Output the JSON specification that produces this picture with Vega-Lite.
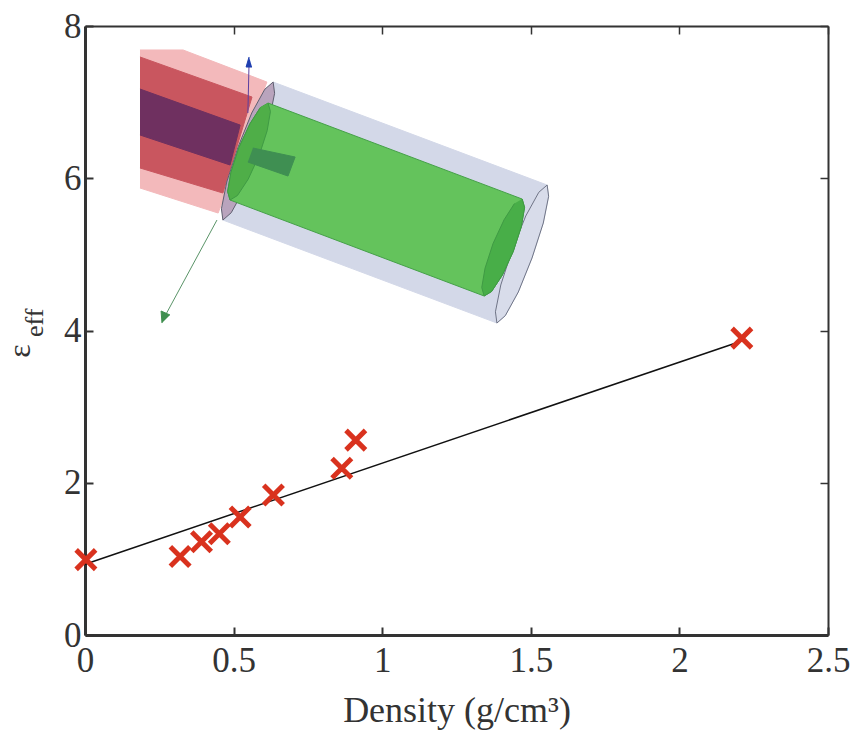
{"$schema":"https://vega.github.io/schema/vega-lite/v6.json","width":743,"height":609,"autosize":"none","padding":{"left":85,"top":26,"right":28,"bottom":99},"background":"white","config":{"view":{"stroke":null},"axis":{"grid":false,"labelFont":"Liberation Serif","titleFont":"Liberation Serif","labelColor":"#333","titleColor":"#333","domainColor":"#333","tickColor":"#333"}},
"datasets":{"pts":[{"x":0.003,"y":0.99},{"x":0.32,"y":1.03},{"x":0.392,"y":1.225},{"x":0.452,"y":1.33},{"x":0.522,"y":1.55},{"x":0.634,"y":1.84},{"x":0.864,"y":2.19},{"x":0.911,"y":2.56},{"x":2.21,"y":3.9}],
"fit":[{"x":0,"y":0.93},{"x":2.2,"y":3.85}],
"ylab":[{"label":"ε"}],"ylab2":[{"label":"eff"}],
"decor":[
{"p":"a","i":1,"x":0.185,"y":7.685},{"p":"a","i":2,"x":0.33,"y":7.685},{"p":"a","i":3,"x":0.612,"y":7.264},{"p":"a","i":4,"x":0.448,"y":5.543},{"p":"a","i":5,"x":0.185,"y":5.872},
{"p":"b","i":1,"x":0.185,"y":7.593},{"p":"b","i":2,"x":0.562,"y":7.067},{"p":"b","i":3,"x":0.464,"y":5.806},{"p":"b","i":4,"x":0.185,"y":6.135},
{"p":"c","i":1,"x":0.185,"y":7.172},{"p":"c","i":2,"x":0.522,"y":6.699},{"p":"c","i":3,"x":0.488,"y":6.174},{"p":"c","i":4,"x":0.185,"y":6.568},
{"p":"d","i":1,"x":0.633,"y":7.264},{"p":"d","i":2,"x":1.555,"y":5.911},{"p":"d","i":3,"x":1.56,"y":5.763},{"p":"d","i":4,"x":1.542,"y":5.412},{"p":"d","i":5,"x":1.504,"y":4.952},{"p":"d","i":6,"x":1.458,"y":4.506},{"p":"d","i":7,"x":1.414,"y":4.194},{"p":"d","i":8,"x":1.386,"y":4.098},{"p":"d","i":9,"x":0.464,"y":5.451},{"p":"d","i":10,"x":0.492,"y":5.547},{"p":"d","i":11,"x":0.536,"y":5.859},{"p":"d","i":12,"x":0.582,"y":6.305},{"p":"d","i":13,"x":0.62,"y":6.765},{"p":"d","i":14,"x":0.638,"y":7.116},
{"p":"e","i":1,"x":0.633,"y":7.264},{"p":"e","i":2,"x":0.638,"y":7.116},{"p":"e","i":3,"x":0.62,"y":6.765},{"p":"e","i":4,"x":0.582,"y":6.305},{"p":"e","i":5,"x":0.536,"y":5.859},{"p":"e","i":6,"x":0.492,"y":5.547},{"p":"e","i":7,"x":0.464,"y":5.451},{"p":"e","i":8,"x":0.459,"y":5.599},{"p":"e","i":9,"x":0.477,"y":5.951},{"p":"e","i":10,"x":0.515,"y":6.41},{"p":"e","i":11,"x":0.561,"y":6.857},{"p":"e","i":12,"x":0.605,"y":7.169},{"p":"e","i":13,"x":0.633,"y":7.264},
{"p":"f","i":1,"x":1.555,"y":5.911},{"p":"f","i":2,"x":1.56,"y":5.763},{"p":"f","i":3,"x":1.542,"y":5.412},{"p":"f","i":4,"x":1.504,"y":4.952},{"p":"f","i":5,"x":1.458,"y":4.506},{"p":"f","i":6,"x":1.414,"y":4.194},{"p":"f","i":7,"x":1.386,"y":4.098},{"p":"f","i":8,"x":1.381,"y":4.246},{"p":"f","i":9,"x":1.399,"y":4.598},{"p":"f","i":10,"x":1.437,"y":5.057},{"p":"f","i":11,"x":1.483,"y":5.504},{"p":"f","i":12,"x":1.527,"y":5.816},{"p":"f","i":13,"x":1.555,"y":5.911},
{"p":"g","i":1,"x":0.616,"y":6.988},{"p":"g","i":2,"x":1.471,"y":5.727},{"p":"g","i":3,"x":1.479,"y":5.616},{"p":"g","i":4,"x":1.468,"y":5.364},{"p":"g","i":5,"x":1.441,"y":5.038},{"p":"g","i":6,"x":1.404,"y":4.726},{"p":"g","i":7,"x":1.368,"y":4.512},{"p":"g","i":8,"x":1.343,"y":4.453},{"p":"g","i":9,"x":0.488,"y":5.714},{"p":"g","i":10,"x":0.48,"y":5.826},{"p":"g","i":11,"x":0.491,"y":6.078},{"p":"g","i":12,"x":0.518,"y":6.404},{"p":"g","i":13,"x":0.555,"y":6.715},{"p":"g","i":14,"x":0.59,"y":6.929},{"p":"g","i":15,"x":0.616,"y":6.988},
{"p":"h","i":1,"x":1.471,"y":5.727},{"p":"h","i":2,"x":1.479,"y":5.616},{"p":"h","i":3,"x":1.468,"y":5.364},{"p":"h","i":4,"x":1.441,"y":5.038},{"p":"h","i":5,"x":1.404,"y":4.726},{"p":"h","i":6,"x":1.368,"y":4.512},{"p":"h","i":7,"x":1.343,"y":4.453},{"p":"h","i":8,"x":1.335,"y":4.565},{"p":"h","i":9,"x":1.346,"y":4.817},{"p":"h","i":10,"x":1.373,"y":5.143},{"p":"h","i":11,"x":1.41,"y":5.454},{"p":"h","i":12,"x":1.445,"y":5.668},
{"p":"i","i":1,"x":0.616,"y":6.988},{"p":"i","i":2,"x":0.624,"y":6.877},{"p":"i","i":3,"x":0.613,"y":6.625},{"p":"i","i":4,"x":0.586,"y":6.299},{"p":"i","i":5,"x":0.549,"y":5.987},{"p":"i","i":6,"x":0.513,"y":5.773},{"p":"i","i":7,"x":0.488,"y":5.714},{"p":"i","i":8,"x":0.48,"y":5.826},{"p":"i","i":9,"x":0.491,"y":6.078},{"p":"i","i":10,"x":0.518,"y":6.404},{"p":"i","i":11,"x":0.555,"y":6.715},{"p":"i","i":12,"x":0.59,"y":6.929},
{"p":"j","i":1,"x":0.565,"y":6.397},{"p":"j","i":2,"x":0.707,"y":6.279},{"p":"j","i":3,"x":0.683,"y":6.029},{"p":"j","i":4,"x":0.548,"y":6.213},
{"p":"k","i":1,"x":0.552,"y":7.514},{"p":"k","i":2,"x":0.548,"y":6.857},
{"p":"l","i":1,"x":0.552,"y":7.593},{"p":"l","i":2,"x":0.542,"y":7.461},{"p":"l","i":3,"x":0.562,"y":7.461},
{"p":"m","i":1,"x":0.444,"y":5.451},{"p":"m","i":2,"x":0.262,"y":4.138},
{"p":"n","i":1,"x":0.259,"y":4.098},{"p":"n","i":2,"x":0.256,"y":4.256},{"p":"n","i":3,"x":0.286,"y":4.204}
]},
"resolve":{"axis":{"x":"independent","y":"independent"}},
"layer":[
{"data":{"name":"decor"},"mark":{"type":"line","filled":true,"strokeWidth":1,"clip":false},"encoding":{
"x":{"field":"x","type":"quantitative","axis":null,"scale":{"domain":[0,2.5],"nice":false}},
"y":{"field":"y","type":"quantitative","axis":null,"scale":{"domain":[0,8],"nice":false}},
"order":{"field":"i","type":"quantitative"},
"fill":{"field":"p","type":"nominal","legend":null,"scale":{"domain":["a","b","c","d","e","f","g","h","i","j","k","l","m","n"],"range":["#f3b9bb","#c9565f","#6f3060","#d3d8e8","#b9a4bd","#d8dcea","#64c35c","#48ae48","#4fae48","#3f8f52","#3f3fa0","#1f3fb0","#5a9468","#3f8f4f"]}},
"stroke":{"field":"p","type":"nominal","legend":null,"scale":{"domain":["a","b","c","d","e","f","g","h","i","j","k","l","m","n"],"range":["#f3b9bb","#c9565f","#6f3060","#d3d8e8","#5f5f70","#6f7486","#45a048","#3f9a44","#3f9a44","#3f8f52","#5a3fa0","#1f3fb0","#5a9468","#3f8f4f"]}}
}},
{"data":{"name":"fit"},"mark":{"type":"line","color":"#111","strokeWidth":1.5},"encoding":{
"x":{"field":"x","type":"quantitative","axis":{"orient":"bottom","title":"Density (g/cm³)","titleFontSize":36,"titleFontWeight":"normal","titlePadding":15,"labelFontSize":35,"labelPadding":16,"tickSize":-8,"tickWidth":2,"domainWidth":3,"values":[0,0.5,1,1.5,2,2.5],"labelFlush":false,"labelOverlap":false,"format":"~g"}},
"y":{"field":"y","type":"quantitative","axis":{"orient":"left","title":null,"labelFontSize":35,"labelPadding":12,"tickSize":-8,"tickWidth":2,"domainWidth":3,"values":[0,2,4,6,8],"labelOverlap":false}}
}},
{"data":{"name":"pts"},"mark":{"type":"point","shape":"M-1,-1L1,1M-1,1L1,-1","size":380,"color":"#d9321e","strokeWidth":5,"filled":false,"opacity":1,"clip":false},"encoding":{
"x":{"field":"x","type":"quantitative","axis":{"orient":"top","title":null,"labels":false,"tickSize":-8,"tickWidth":1.5,"domainWidth":2,"values":[0,0.5,1,1.5,2,2.5]}},
"y":{"field":"y","type":"quantitative","axis":{"orient":"right","title":null,"labels":false,"tickSize":-8,"tickWidth":1.5,"domainWidth":2,"values":[0,2,4,6,8]}}
}},
{"data":{"name":"ylab"},"mark":{"type":"text","font":"Liberation Serif","fontSize":32,"angle":270,"color":"#333","clip":false},"encoding":{"text":{"field":"label"},"x":{"datum":-0.219,"axis":null},"y":{"datum":3.73,"axis":null}}},
{"data":{"name":"ylab2"},"mark":{"type":"text","font":"Liberation Serif","fontSize":26,"angle":270,"color":"#333","clip":false},"encoding":{"text":{"field":"label"},"x":{"datum":-0.168,"axis":null},"y":{"datum":4.1,"axis":null}}}
]}
